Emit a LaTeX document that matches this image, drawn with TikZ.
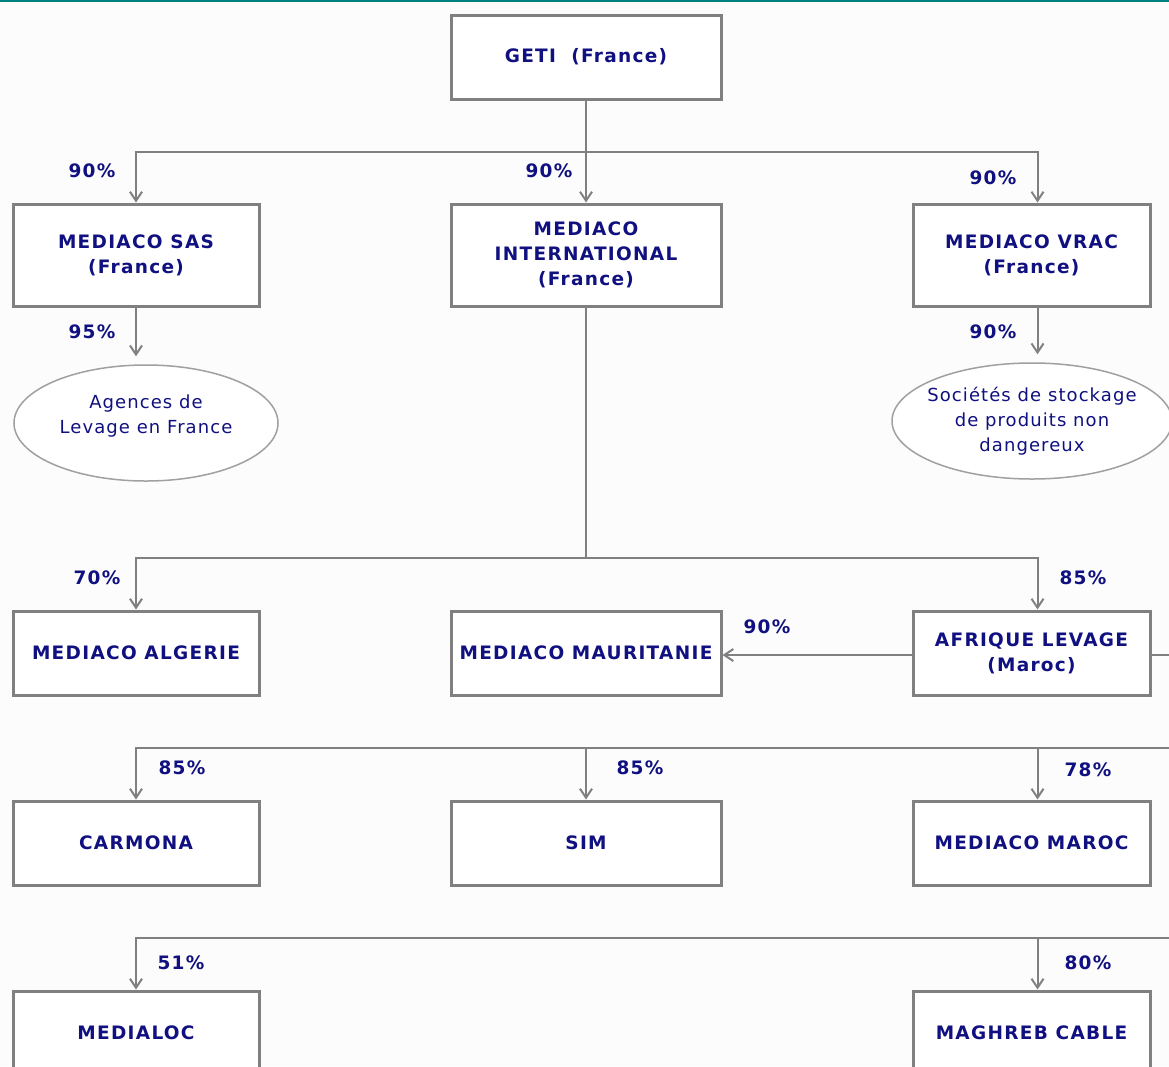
\documentclass[tikz,border=0pt]{standalone}
\usepackage{fontspec}
\usepackage{tikz}
\usetikzlibrary{arrows.meta, shapes.geometric}
\newfontfamily\boxfont[LetterSpace=7]{DejaVu Sans}
\newfontfamily\ovalfont[LetterSpace=6]{DejaVu Sans}
\definecolor{navytext}{RGB}{16,16,128}
\definecolor{linegray}{RGB}{128,128,128}
\definecolor{ovalgray}{RGB}{160,160,160}
\definecolor{pagebg}{RGB}{252,252,252}
\definecolor{topteal}{RGB}{0,128,128}

\begin{document}
\begin{tikzpicture}[x=1pt, y=-1pt,
  box/.style={draw=linegray, fill=white, line width=3pt,
              minimum width=246pt, minimum height=84pt, inner sep=0pt,
              align=center, text=navytext,
              font=\boxfont\bfseries\fontsize{18.5}{25}\selectfont},
  widebox/.style={box, minimum width=270pt},
  tallbox/.style={minimum height=102pt},
  oval/.style={ellipse, draw=ovalgray, fill=white, line width=1.5pt,
               inner sep=-20pt, align=center, text=navytext,
               font=\ovalfont\fontsize{18}{25}\selectfont},
  pct/.style={text=navytext, inner sep=0pt,
              font=\boxfont\bfseries\fontsize{18.5}{20}\selectfont},
  line/.style={draw=linegray, line width=2pt},
  arrow/.style={line, -{Straight Barb[length=9pt, width=12pt]}}
]
\useasboundingbox (0,0) rectangle (1169,1066);
\clip (0,0) rectangle (1169,1066);
\fill[pagebg] (0,0) rectangle (1169,1066);
\fill[topteal] (0,0) rectangle (1169,2);

% top level
\node[widebox] (geti) at (586,57) {GETI~ (France)};

\node[box, tallbox]     (sas)  at (136,255)    {MEDIACO SAS\\(France)};
\node[widebox, tallbox] (intl) at (586,255)    {MEDIACO\\INTERNATIONAL\\(France)};
\node[box, tallbox, minimum width=237pt] (vrac) at (1031.5,255) {MEDIACO VRAC\\(France)};

\node[oval, minimum width=264pt, minimum height=116pt] (agences)  at (146,423)  {Agences de\\Levage en France\\[-8pt]};
\node[oval, minimum width=280pt, minimum height=116pt] (stockage) at (1032,421) {Sociétés de stockage\\de produits non\\dangereux};

\node[box]                         (algerie)    at (136,653)    {MEDIACO ALGERIE};
\node[widebox]                     (mauritanie) at (586,653)    {MEDIACO MAURITANIE};
\node[box, minimum width=237pt]    (afrique)    at (1031.5,653) {AFRIQUE LEVAGE\\(Maroc)};

\node[box]                         (carmona) at (136,843)    {CARMONA};
\node[widebox]                     (sim)     at (586,843)    {SIM};
\node[box, minimum width=237pt]    (maroc)   at (1031.5,843) {MEDIACO MAROC};

\node[box]                         (medialoc) at (136,1033)    {MEDIALOC};
\node[box, minimum width=237pt]    (maghreb)  at (1031.5,1033) {MAGHREB CABLE};

% junctions
\coordinate (bus1) at (586,152);
\coordinate (bus2) at (586,558);
\coordinate (t1) at (1190,655);
\coordinate (t2) at (1190,748);
\coordinate (t3) at (1190,938);

\draw[line]  (geti) -- (bus1);
\draw[arrow] (bus1) -| (sas);
\draw[arrow] (bus1) -- (intl);
\draw[arrow] (bus1) -| ([xshift=6]vrac.north);

\draw[arrow] (sas) -- ([yshift=8]sas.south |- agences.north);
\draw[arrow] ([xshift=6]vrac.south) -- ([xshift=6, yshift=8]vrac.south |- stockage.north);

\draw[line]  (intl) -- (bus2);
\draw[arrow] (bus2) -| (algerie);
\draw[arrow] (bus2) -| ([xshift=6]afrique.north);
\draw[arrow] (afrique.west |- t1) -- (mauritanie.east |- t1);

\draw[line]  (afrique.east |- t1) -- (t1) -- (t3);
\draw[arrow] (t2) -| (carmona);
\draw[arrow] (t2) -| (sim);
\draw[arrow] (t2) -| ([xshift=6]maroc.north);
\draw[arrow] (t3) -| (medialoc);
\draw[arrow] (t3) -| ([xshift=6]maghreb.north);

% shares
\node[pct] (pSas)   at (92,171)   {90\%};
\node[pct] (pIntl)  at (549,171)  {90\%};
\node[pct] (pVrac)  at (993,178)  {90\%};
\node[pct] (pAg)    at (92,332)   {95\%};
\node[pct] (pSt)    at (993,332)  {90\%};
\node[pct] (pAlg)   at (97,578)   {70\%};
\node[pct] (pAfr)   at (1083,578) {85\%};
\node[pct] (pMau)   at (767,627)  {90\%};
\node[pct] (pCar)   at (182,768)  {85\%};
\node[pct] (pSim)   at (640,768)  {85\%};
\node[pct] (pMar)   at (1088,770) {78\%};
\node[pct] (pLoc)   at (181,963)  {51\%};
\node[pct] (pCab)   at (1088,963) {80\%};
\end{tikzpicture}
\end{document}
